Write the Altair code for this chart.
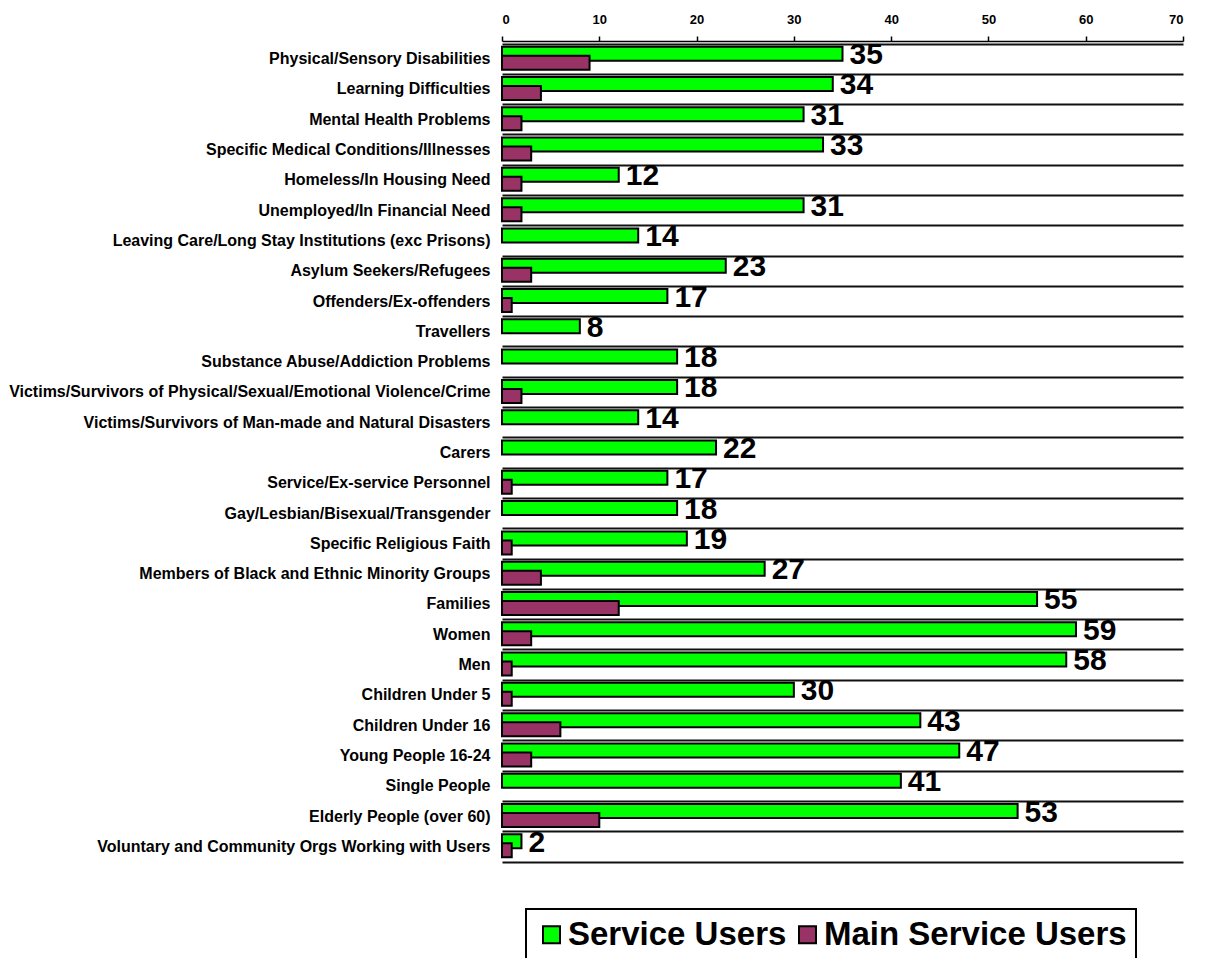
import altair as alt
import pandas as pd

categories = [
    "Physical/Sensory Disabilities",
    "Learning Difficulties",
    "Mental Health Problems",
    "Specific Medical Conditions/Illnesses",
    "Homeless/In Housing Need",
    "Unemployed/In Financial Need",
    "Leaving Care/Long Stay Institutions (exc Prisons)",
    "Asylum Seekers/Refugees",
    "Offenders/Ex-offenders",
    "Travellers",
    "Substance Abuse/Addiction Problems",
    "Victims/Survivors of Physical/Sexual/Emotional Violence/Crime",
    "Victims/Survivors of Man-made and Natural Disasters",
    "Carers",
    "Service/Ex-service Personnel",
    "Gay/Lesbian/Bisexual/Transgender",
    "Specific Religious Faith",
    "Members of Black and Ethnic Minority Groups",
    "Families",
    "Women",
    "Men",
    "Children Under 5",
    "Children Under 16",
    "Young People 16-24",
    "Single People",
    "Elderly People (over 60)",
    "Voluntary and Community Orgs Working with Users",
]
service_users = [35, 34, 31, 33, 12, 31, 14, 23, 17, 8, 18, 18, 14, 22, 17, 18, 19, 27,
                 55, 59, 58, 30, 43, 47, 41, 53, 2]
main_service_users = [9, 4, 2, 3, 2, 2, 0, 3, 1, 0, 0, 2, 0, 0, 1, 0, 1, 4,
                      12, 3, 1, 1, 6, 3, 0, 10, 1]
series_names = ["Service Users", "Main Service Users"]
series_colors = ["#00FF00", "#993366"]
x_ticks = [0, 10, 20, 30, 40, 50, 60, 70]

rows = []
for c, s, m in zip(categories, service_users, main_service_users):
    rows.append({"category": c, "series": series_names[0], "value": s})
    rows.append({"category": c, "series": series_names[1], "value": m})
df = pd.DataFrame(rows)

FONT = "Liberation Sans"

y_enc = alt.Y(
    "category:N",
    sort=categories,
    scale=alt.Scale(paddingInner=0, paddingOuter=0),
    axis=alt.Axis(
        title=None, grid=True, bandPosition=0, gridColor="#111111", gridWidth=2,
        ticks=False, domain=False, labelFont=FONT, labelFontSize=16,
        labelFontWeight="bold", labelColor="black", labelPadding=12, labelLimit=700,
    ),
)
x_scale = alt.Scale(domain=[0, 70], nice=False, zero=True)
x_top = alt.X(
    "value:Q", scale=x_scale,
    axis=alt.Axis(
        orient="top", values=x_ticks, title=None, grid=False, domainColor="black",
        domainWidth=1.5, tickColor="black", tickWidth=1.5, tickSize=5, offset=3,
        labelFont=FONT, labelFontSize=13, labelFontWeight="bold", labelColor="black",
        labelPadding=10,
    ),
)
x_plain = alt.X("value:Q", scale=x_scale, axis=None)
color_enc = alt.Color(
    "series:N",
    scale=alt.Scale(domain=series_names, range=series_colors),
    legend=alt.Legend(
        title=None, orient="none", legendX=24, legendY=865, direction="horizontal",
        symbolType="square", symbolSize=289, symbolStrokeColor="black",
        symbolStrokeWidth=2, symbolOpacity=1, labelFont=FONT, labelFontSize=33,
        labelFontWeight="bold", labelColor="black", labelOffset=0, columnPadding=4,
        padding=9, strokeColor="black", labelLimit=500,
    ),
)

base = alt.Chart(df)

green = base.transform_filter(alt.datum.series == series_names[0]).mark_bar(
    size=14, yOffset=-5.5, stroke="black", strokeWidth=2
).encode(x=x_top, y=y_enc, color=color_enc)

maroon = base.transform_filter(
    (alt.datum.series == series_names[1]) & (alt.datum.value > 0)
).mark_bar(
    size=14, yOffset=3.5, stroke="black", strokeWidth=2
).encode(x=x_plain, y=y_enc, color=color_enc)

labels = base.transform_filter(alt.datum.series == series_names[0]).mark_text(
    align="left", baseline="middle", dx=7, yOffset=-4, fontSize=30,
    fontWeight="bold", font=FONT, color="black"
).encode(x=x_plain, y=y_enc, text="value:Q")

bottom_line = base.mark_rule(opacity=0).encode(
    x=alt.X("value:Q", scale=x_scale,
            axis=alt.Axis(orient="bottom", labels=False, ticks=False, title=None,
                          grid=False, domainColor="#111111", domainWidth=2)),
)

chart = alt.layer(green, maroon, labels, bottom_line).resolve_axis(
    x="independent"
).properties(
    width=681, height=818,
    autosize=alt.AutoSizeParams(type="none"),
    padding={"left": 502, "top": 44, "right": 22, "bottom": 96},
    background="white",
).configure_view(stroke=None).configure_legend(strokeWidth=2)

chart.save("out.html", embed_options={"renderer": "svg", "actions": False})
